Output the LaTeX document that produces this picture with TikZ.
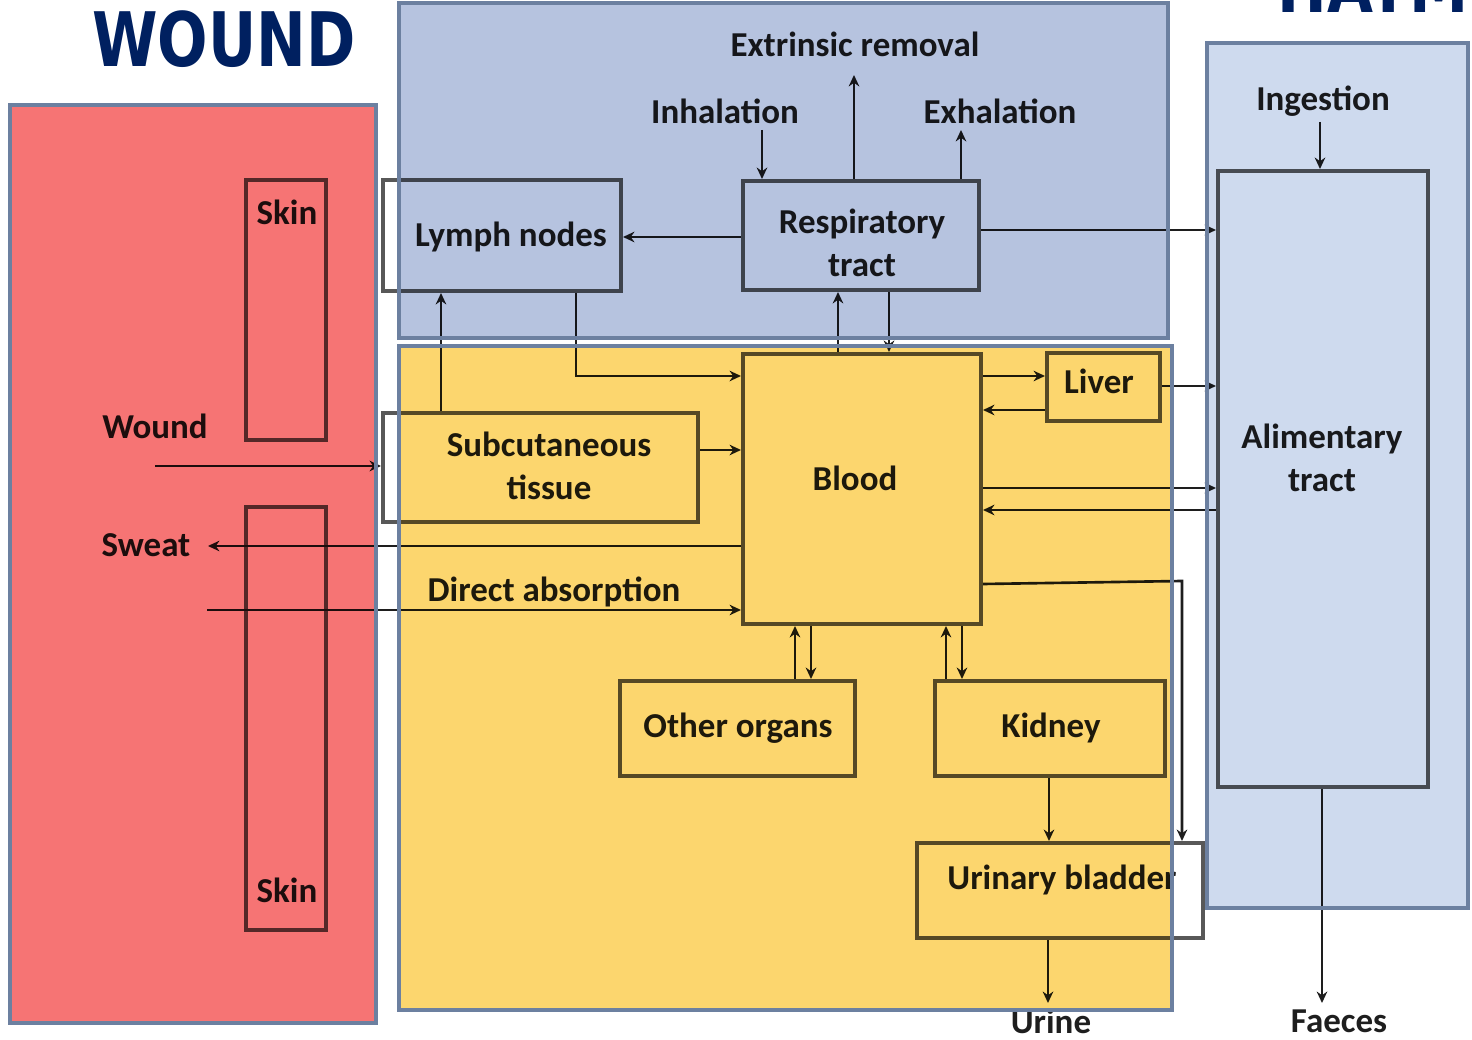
\documentclass[tikz,border=0pt]{standalone}
\usepackage{fontspec}
\setmainfont{Carlito}
\newfontfamily\titlefont{DejaVu Sans}
\usetikzlibrary{arrows.meta,fit,calc}

\definecolor{navy}{RGB}{0,32,96}
\definecolor{panelline}{RGB}{108,128,160}
\definecolor{redfill}{RGB}{246,116,116}
\definecolor{bluefill}{RGB}{182,195,223}
\definecolor{yellowfill}{RGB}{252,214,110}
\definecolor{paleblue}{RGB}{206,218,238}
\definecolor{boxgray}{RGB}{88,88,88}
\definecolor{ink}{RGB}{30,30,30}

\tikzset{
  box/.style={draw=boxgray, line width=2.3pt, fill=white, inner sep=0pt},
  lbl/.style={font=\fontsize{19.9}{24.5}\selectfont\bfseries, text=ink, align=center, inner sep=0pt},
  flow/.style={draw=ink, line width=1.5pt, -{Stealth[length=6.5pt,width=6pt]}},
  panel/.style={draw=panelline, line width=2.3pt},
  headline/.style={font=\titlefont\bfseries\fontsize{42.8}{44}\selectfont, text=navy, anchor=base west, inner sep=0pt},
}

\begin{document}
\begin{tikzpicture}[x=0.02cm,y=-0.02cm]
\useasboundingbox (0,0) rectangle (1472,1040);
\clip (0,0) rectangle (1472,1040);

% compartments
\node[box, fit={(246,180)(326,440)}] (skin1) {};
\node[box, fit={(246,507)(326,930)}] (skin2) {};
\node[box, fit={(383,180)(621,291)}] (lymph) {};
\node[box, fit={(743,181)(979,290)}] (resp) {};
\node[box, fit={(383,413)(698,522)}] (subcut) {};
\node[box, fit={(743,354)(981,624)}] (blood) {};
\node[box, fit={(1047,353)(1160,421)}] (liver) {};
\node[box, fit={(620,681)(855,776)}] (organs) {};
\node[box, fit={(935,681)(1165,776)}] (kidney) {};
\node[box, fit={(917,843)(1203,938)}] (bladder) {};
\node[box, fit={(1218,171)(1428,787)}] (alim) {};

% labels
\node[lbl] (tSkinA) at (287,212) {Skin};
\node[lbl] (tSkinB) at (287,890) {Skin};
\node[lbl] (tWound) at (155,426) {Wound};
\node[lbl] (tSweat) at (146,545) {Sweat};
\node[lbl] (tExtr) at (855,44) {Extrinsic removal};
\node[lbl] (tInh) at (725,111) {Inhalation};
\node[lbl] (tExh) at (1000,111) {Exhalation};
\node[lbl] (tIng) at (1323,101) {Ingestion};
\node[lbl] (tLymph) at (511,237) {Lymph nodes};
\node[lbl] (tResp) at (862,243) {Respiratory\\tract};
\node[lbl] (tSub) at (549,466) {Subcutaneous\\tissue};
\node[lbl] (tBlood) at (855,478) {Blood};
\node[lbl] (tLiver) at (1099,381) {Liver};
\node[lbl] (tAlim) at (1322,458) {Alimentary\\tract};
\node[lbl] (tDirect) at (554,592) {Direct absorption};
\node[lbl] (tOrgans) at (738,728) {Other organs};
\node[lbl] (tKidney) at (1051,728) {Kidney};
\node[lbl] (tBladder) at (1062,880) {Urinary bladder};
\node[lbl] (tUrine) at (1051,1021) {Urine};
\node[lbl] (tFaeces) at (1339,1021) {Faeces};

% free ends of the flows
\coordinate (inhS) at (762,130);
\coordinate (extE) at (854,75);
\coordinate (exhE) at (961,130);
\coordinate (ingS) at (1320,122);
\coordinate (woundS) at (155,466);
\coordinate (sweatE) at (208,546);
\coordinate (directS) at (207,610);
\coordinate (bend) at (1182,581);
\coordinate (urineE) at (1048,1003);
\coordinate (faecesE) at (1322,1003);

% flows
\draw[flow] (inhS) -- (resp.north -| inhS);
\draw[flow] (resp.north -| extE) -- (extE);
\draw[flow] (resp.north -| exhE) -- (exhE);
\draw[flow] (ingS) -- (alim.north -| ingS);
\draw[flow] (resp.west |- 0,237) -- (lymph.east |- 0,237);
\draw[flow] (resp.east |- 0,230) -- (alim.west |- 0,230);
\draw[flow] (blood.north -| 838,0) -- (resp.south -| 838,0);
\draw[flow] (resp.south -| 889,0) -- (blood.north -| 889,0);
\draw[flow] (lymph.south -| 576,0) |- (blood.west |- 0,376);
\draw[flow] (subcut.north -| 441,0) -- (lymph.south -| 441,0);
\draw[flow] (subcut.east |- 0,450) -- (blood.west |- 0,450);
\draw[flow] (woundS) -- (subcut.west |- woundS);
\draw[flow] (blood.west |- sweatE) -- (sweatE);
\draw[flow] (directS) -- (blood.west |- directS);
\draw[flow] (blood.east |- 0,376) -- (liver.west |- 0,376);
\draw[flow] (liver.west |- 0,410) -- (blood.east |- 0,410);
\draw[flow] (liver.east |- 0,386) -- (alim.west |- 0,386);
\draw[flow] (blood.east |- 0,488) -- (alim.west |- 0,488);
\draw[flow] (alim.west |- 0,510) -- (blood.east |- 0,510);
\draw[flow] (blood.east |- 0,584) -- (bend) -- (bladder.north -| bend);
\draw[flow] (organs.north -| 795,0) -- (blood.south -| 795,0);
\draw[flow] (blood.south -| 811,0) -- (organs.north -| 811,0);
\draw[flow] (kidney.north -| 946,0) -- (blood.south -| 946,0);
\draw[flow] (blood.south -| 962,0) -- (kidney.north -| 962,0);
\draw[flow] (kidney.south -| 1049,0) -- (bladder.north -| 1049,0);
\draw[flow] (bladder.south -| urineE) -- (urineE);
\draw[flow] (alim.south -| faecesE) -- (faecesE);

% tinted regions laid over the scheme
\begin{scope}[blend mode=multiply]
  \fill[redfill] (10,105) rectangle (376,1023);
  \fill[bluefill] (399,3) rectangle (1168,338);
  \fill[yellowfill] (399,346) rectangle (1172,1010);
  \fill[paleblue] (1207,43) rectangle (1468,908);
\end{scope}
\draw[panel] (10,105) rectangle (376,1023);
\draw[panel] (399,3) rectangle (1168,338);
\draw[panel] (399,346) rectangle (1172,1010);
\draw[panel] (1207,43) rectangle (1468,908);

% headings
\node[headline] (hWound) at (92,67) {\scalebox{0.79}[1]{WOUND}};
\node[headline] (hHatm) at (1277,13) {\scalebox{0.79}[1]{HATM}};
\end{tikzpicture}
\end{document}
